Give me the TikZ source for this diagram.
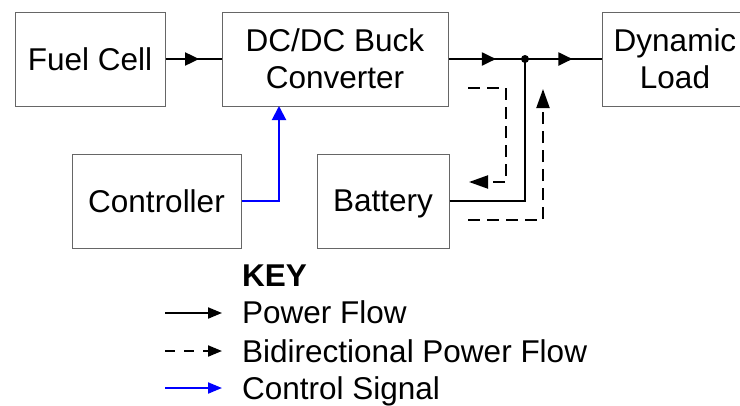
\documentclass[tikz,border=0pt]{standalone}
\usepackage{fontspec}
\setmainfont{Liberation Sans}
\usetikzlibrary{arrows.meta,decorations.markings}
\begin{document}
\begin{tikzpicture}[x=1pt,y=-1pt,
  blk/.style={draw=black!60, line width=1pt, inner sep=0pt, align=center,
    font=\fontsize{31.5}{37}\selectfont, minimum height=94pt},
  txt/.style={inner sep=0pt, anchor=base west, font=\fontsize{31.5}{37}\selectfont},
  pwr/.style={line width=2pt, black},
  dsh/.style={line width=2pt, black, dash pattern=on 12pt off 7pt},
  ctl/.style={line width=2pt, blue},
  tip/.style={-{Triangle[length=14pt,width=11pt]}},
  longtip/.style={-{Triangle[length=19pt,width=13pt]}},
  midarrow/.style={postaction={decorate}, decoration={markings,
    mark=at position #1 with {\arrow{Triangle[length=14pt,width=13pt]}}}}
]
\useasboundingbox (0,0) rectangle (740,405);
% blocks
\node[blk, minimum width=150pt] (fc) at (90,59) {Fuel Cell};
\node[blk, minimum width=226pt] (dc) at (335,59) {DC/DC Buck\\Converter};
\node[blk, minimum width=146pt] (load) at (675,59) {Dynamic\\Load};
\node[blk, minimum width=169pt] (ctrl) at (156.5,201) {Controller};
\node[blk, minimum width=132pt, text depth=0pt] (bat) at (383,201) {Battery};
\coordinate (junc) at (525,59);
% power flow
\draw[pwr, midarrow=0.6] (fc) -- (dc);
\draw[pwr, midarrow=0.62] (dc.east) -- (junc);
\draw[pwr, midarrow=0.62] (junc) -- (load.west);
\draw[pwr] (bat.east) -| (junc);
\fill (junc) circle (4pt);
% bidirectional
\coordinate (d1s) at (468,88);
\coordinate (d1a) at (506,88);
\coordinate (d1b) at (506,182);
\coordinate (d1e) at (469,182);
\draw[dsh, longtip] (d1s) -- (d1a) -- (d1b) -- (d1e);
\coordinate (d2s) at (468,220);
\coordinate (d2a) at (543,220);
\coordinate (d2e) at (543,89);
\draw[dsh, longtip] (d2s) -- (d2a) -- (d2e);
% control
\coordinate (cin) at (279,106);
\draw[ctl, -{Triangle[length=14pt,width=14pt]}] (ctrl.east) -| (cin);
% key
\node[txt, font=\fontsize{31.5}{37}\selectfont\bfseries] (key) at (242,286) {KEY};
\node[txt] (t1) at (242,323) {Power Flow};
\node[txt] (t2) at (242,362) {Bidirectional Power Flow};
\node[txt] (t3) at (242,399) {Control Signal};
\coordinate (k1s) at (165,313);
\coordinate (k1e) at (222,313);
\coordinate (k2s) at (165,351);
\coordinate (k2e) at (222,351);
\coordinate (k3s) at (165,388);
\coordinate (k3e) at (222,388);
\draw[pwr, tip] (k1s) -- (k1e);
\draw[dsh, tip, dash pattern=on 10pt off 9pt] (k2s) -- (k2e);
\draw[ctl, tip] (k3s) -- (k3e);
\end{tikzpicture}
\end{document}
